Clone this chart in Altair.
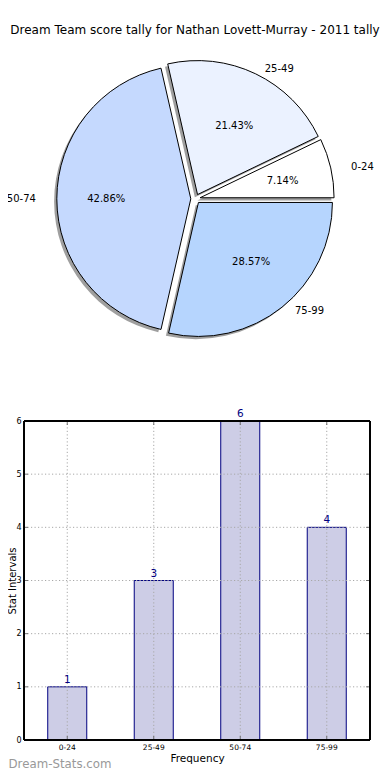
import math
import altair as alt
import pandas as pd

# ---------------- data ----------------
categories = ["0-24", "25-49", "50-74", "75-99"]
counts = [1, 3, 6, 4]
slice_colors = ["#ffffff", "#ebf2ff", "#c5d9fe", "#b6d5fe"]
y_ticks = [0, 1, 2, 3, 4, 5, 6]
title_text = "Dream Team score tally for Nathan Lovett-Murray - 2011 tally"
x_title = "Frequency"
y_title = "Stat Intervals"
watermark = "Dream-Stats.com"

df = pd.DataFrame({"cat": categories, "count": counts, "idx": list(range(len(categories)))})
ticks_df = pd.DataFrame({"v": y_ticks})
total = sum(counts)

FONT = "DejaVu Sans"
W, H = 374, 764  # whole svg (page offset 8px)

# ---------------- pie layout (chart px; page = chart + 8) ----------------
CX, CY = 187.5, 190.8      # pie centre
R = 134                     # wedge radius
EXP = 0.035                 # explode (fraction of radius)
LRX, LRY = 140.6, 126.8     # label radii
SH = 2.7                    # shadow offset

pie_base = (
    alt.Chart(df)
    .transform_joinaggregate(tot="sum(count)")
    .transform_window(cum="sum(count)", sort=[alt.SortField("idx", order="ascending")],
                      frame=[None, 0])
    .transform_calculate(
        t0="datum.cum - datum.count",
        t1="datum.cum",
        mid="2*PI*(datum.cum - datum.count/2)/datum.tot",
    )
    .transform_calculate(
        ex=f"{CX} + {EXP * R}*cos(datum.mid)",
        ey=f"{CY} - {EXP * R}*sin(datum.mid)",
        lx=f"{CX} + {(1.1 + EXP) * LRX}*cos(datum.mid)",
        ly=f"{CY} - {(1.1 + EXP) * LRY}*sin(datum.mid)",
        px=f"{CX} + {(0.6 + EXP) * LRX}*cos(datum.mid)",
        py=f"{CY} - {(0.6 + EXP) * LRY}*sin(datum.mid)",
        pct="format(100*datum.count/datum.tot, '.2f') + '%'",
    )
    .transform_calculate(sx=f"datum.ex - {SH}", sy=f"datum.ey + {SH}")
)

theta_scale = alt.Scale(domain=[0, total], range=[2.5 * math.pi, 0.5 * math.pi])

shadow = pie_base.mark_arc(radius=R, fill="#404040", opacity=0.5, stroke=None).encode(
    x=alt.X("sx:Q", scale=None, axis=None),
    y=alt.Y("sy:Q", scale=None, axis=None),
    theta=alt.Theta("t0:Q", scale=theta_scale, stack=None),
    theta2="t1:Q",
)

wedges = pie_base.mark_arc(radius=R, stroke="black", strokeWidth=1, opacity=1).encode(
    x=alt.X("ex:Q", scale=None, axis=None),
    y=alt.Y("ey:Q", scale=None, axis=None),
    theta=alt.Theta("t0:Q", scale=theta_scale, stack=None),
    theta2="t1:Q",
    fill=alt.Fill("cat:N", scale=alt.Scale(domain=categories, range=slice_colors), legend=None),
)

lab_right = pie_base.transform_filter("cos(datum.mid) >= 0").mark_text(
    align="left", baseline="middle", font=FONT, fontSize=10, color="black"
).encode(
    x=alt.X("lx:Q", scale=None, axis=None),
    y=alt.Y("ly:Q", scale=None, axis=None),
    text="cat:N",
)
lab_left = pie_base.transform_filter("cos(datum.mid) < 0").mark_text(
    align="right", baseline="middle", font=FONT, fontSize=10, color="black"
).encode(
    x=alt.X("lx:Q", scale=None, axis=None),
    y=alt.Y("ly:Q", scale=None, axis=None),
    text="cat:N",
)
pct_lab = pie_base.mark_text(
    align="center", baseline="middle", font=FONT, fontSize=10, color="black"
).encode(
    x=alt.X("px:Q", scale=None, axis=None),
    y=alt.Y("py:Q", scale=None, axis=None),
    text="pct:N",
)

title_mark = alt.Chart(pd.DataFrame({"t": [title_text]})).mark_text(
    align="center", baseline="alphabetic", font=FONT, fontSize=12, color="black"
).encode(x=alt.value(187), y=alt.value(26), text="t:N")

wm_mark = alt.Chart(pd.DataFrame({"t": [watermark]})).mark_text(
    align="left", baseline="alphabetic", font=FONT, fontSize=11.8, color="#999999"
).encode(x=alt.value(0.5), y=alt.value(759.5), text="t:N")

pie_layer = alt.layer(shadow, wedges, lab_right, lab_left, pct_lab, title_mark, wm_mark)

# ---------------- bar chart ----------------
X0, X1 = 16, 362
Y0, Y1 = 732, 413
TK = 4  # inward tick length
xs = alt.Scale(domain=categories, range=[X0, X1], paddingInner=0.549, paddingOuter=0.2745)
ys = alt.Scale(domain=[0, 6], range=[Y0, Y1], nice=False, zero=True)

bars = alt.Chart(df).mark_bar(fill="#cdcde6", stroke="#000080", strokeWidth=1).encode(
    x=alt.X("cat:N", scale=xs, sort=categories,
            axis=alt.Axis(orient="bottom", offset=Y0 - H, title=x_title, labelAngle=0,
                          domain=False, ticks=False, grid=False, labelPadding=3,
                          labelFont=FONT, labelFontSize=7.5, labelColor="black",
                          titleFont=FONT, titleFontSize=10.5, titleFontWeight="normal",
                          titleColor="black", titleY=13.5, titleBaseline="top")),
    y=alt.Y("count:Q", scale=ys,
            axis=alt.Axis(orient="left", offset=-X0, title=y_title, values=y_ticks,
                          format="d", domain=False, ticks=False, grid=False, labelPadding=3,
                          labelFont=FONT, labelFontSize=8, labelColor="black",
                          titleFont=FONT, titleFontSize=10, titleFontWeight="normal",
                          titleColor="black", titleX=-8.5, titleBaseline="alphabetic")),
)

grid_style = dict(color="#a8a8a8", strokeWidth=1, strokeDash=[1.2, 2.3])
tick_style = dict(color="#555555", strokeWidth=0.8)

vgrid = alt.Chart(df).mark_rule(**grid_style).encode(
    x=alt.X("cat:N", scale=xs, sort=categories, title=x_title),
    y=alt.datum(0),
    y2=alt.datum(6),
)
hgrid = alt.Chart(ticks_df).mark_rule(**grid_style).encode(
    y=alt.Y("v:Q", scale=ys, title=y_title),
    x=alt.value(X0),
    x2=alt.value(X1),
)
ytick_l = alt.Chart(ticks_df).mark_rule(**tick_style).encode(
    y=alt.Y("v:Q", scale=ys, title=y_title), x=alt.value(X0), x2=alt.value(X0 + TK))
ytick_r = alt.Chart(ticks_df).mark_rule(**tick_style).encode(
    y=alt.Y("v:Q", scale=ys, title=y_title), x=alt.value(X1 - TK), x2=alt.value(X1))
xtick_t = alt.Chart(df).mark_rule(**tick_style).encode(
    x=alt.X("cat:N", scale=xs, sort=categories, title=x_title), y=alt.value(Y1), y2=alt.value(Y1 + TK))
xtick_b = alt.Chart(df).mark_rule(**tick_style).encode(
    x=alt.X("cat:N", scale=xs, sort=categories, title=x_title), y=alt.value(Y0 - TK), y2=alt.value(Y0))

frame = alt.Chart(ticks_df).mark_rect(fill="white", fillOpacity=0, stroke="black", strokeWidth=1).encode(
    x=alt.value(X0),
    x2=alt.value(X1),
    y=alt.datum(0),
    y2=alt.datum(6),
)
bar_text = alt.Chart(df).mark_text(
    align="center", baseline="alphabetic", dy=-4, font=FONT, fontSize=10.5, color="#000080"
).encode(
    x=alt.X("cat:N", scale=xs, sort=categories, title=x_title),
    y=alt.Y("count:Q", scale=ys, title=y_title),
    text="count:Q",
)

bar_layer = alt.layer(bars, vgrid, hgrid, ytick_l, ytick_r, xtick_t, xtick_b, frame, bar_text)

chart = (
    alt.layer(pie_layer, bar_layer)
    .resolve_scale(x="independent", y="independent")
    .properties(width=W, height=H, padding=0,
                autosize=alt.AutoSizeParams(type="none"))
    .configure_view(stroke=None)
)

chart.save("out.html", embed_options={"renderer": "svg", "actions": False})
